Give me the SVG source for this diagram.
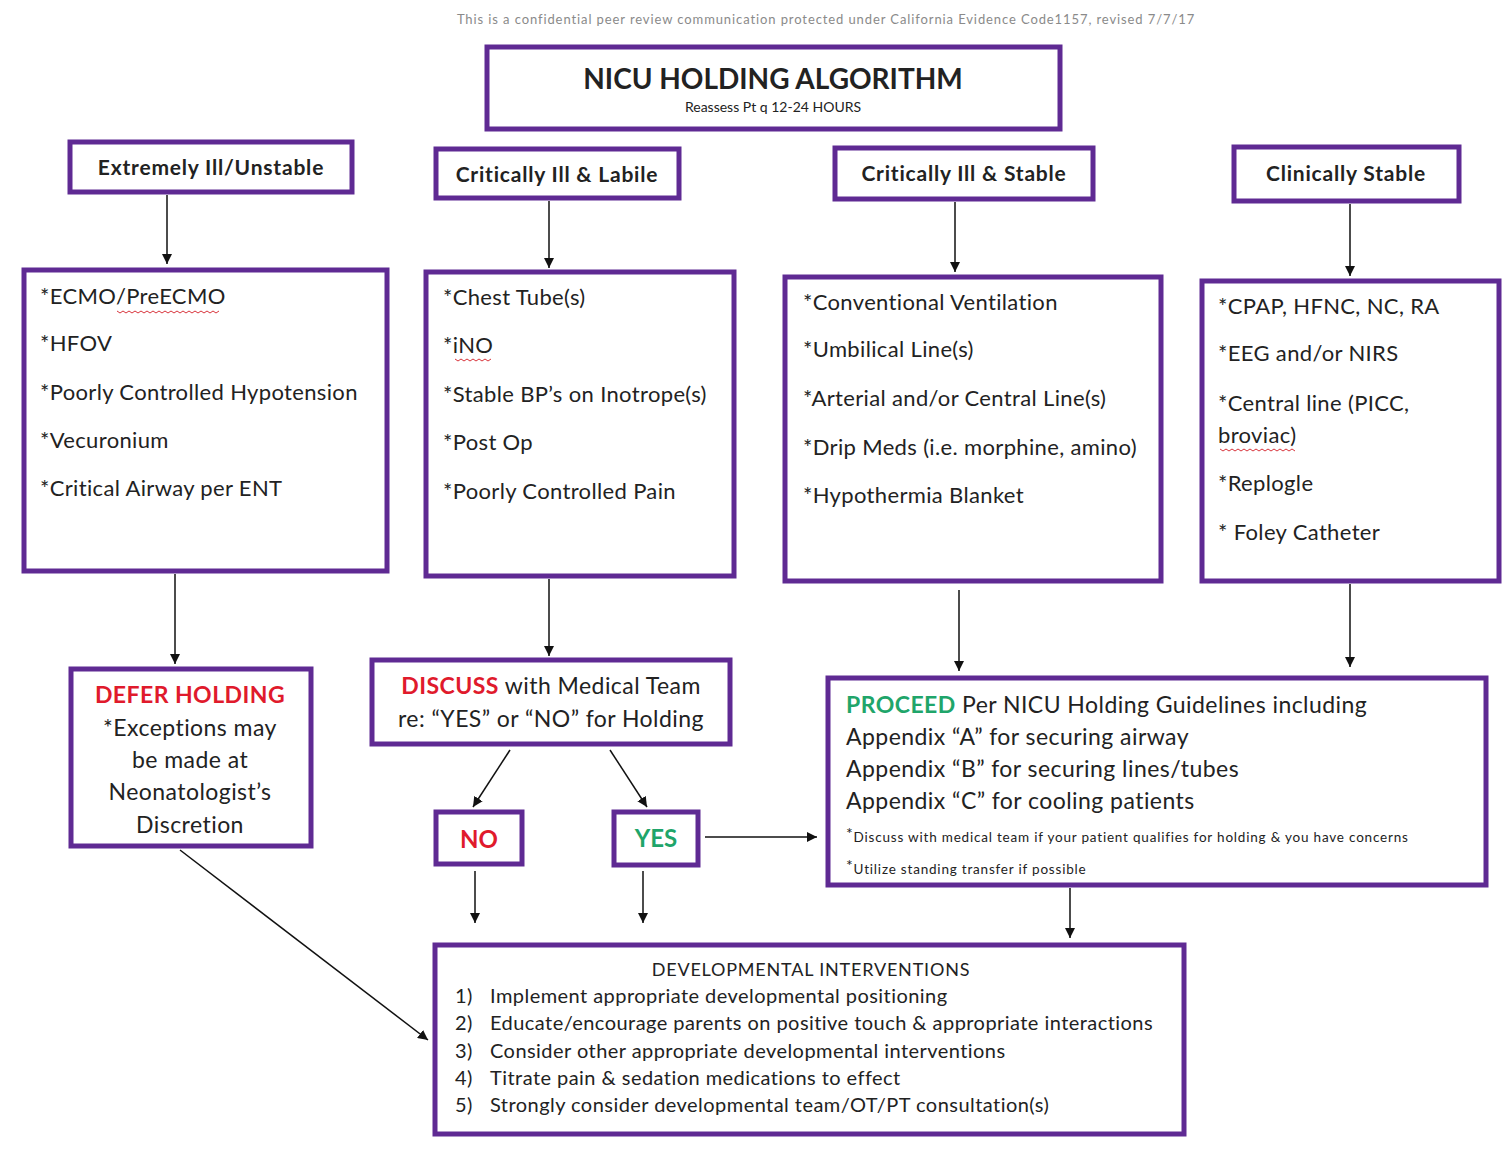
<svg xmlns="http://www.w3.org/2000/svg" width="1511" height="1152" viewBox="0 0 1511 1152">
<style>
.box{fill:#ffffff;stroke:#5f2a93;stroke-width:5}
.t{font-family:Lato,"Open Sans","Liberation Sans",sans-serif;fill:#222}
.cat{font-size:21px;font-weight:bold;text-anchor:middle;letter-spacing:0.8px}
.item{font-size:22px;letter-spacing:0.35px}
.big{font-size:23px;letter-spacing:0.45px}
.red{fill:#e01a2c;font-weight:bold}
.grn{fill:#1fa56a;font-weight:bold}
.note{font-size:13.5px;letter-spacing:0.8px}
.dev{font-size:20px;letter-spacing:0.45px}
.con{stroke:#111;stroke-width:1.5;fill:none}
.sq{stroke:#d8343c;stroke-width:1;fill:none}
</style>
<defs>
<marker id="ah" markerUnits="userSpaceOnUse" markerWidth="10" markerHeight="10" refX="10" refY="5" orient="auto">
<path d="M0,0 L10,5 L0,10 z" fill="#111"/>
</marker>
</defs>
<rect width="1511" height="1152" fill="#ffffff"/>
<text class="t" x="826" y="24" font-size="13" letter-spacing="0.9" style="fill:#8a8a8a" text-anchor="middle">This is a confidential peer review communication protected under California Evidence Code1157, revised 7/7/17</text>

<g id="header">
<rect class="box" x="487" y="47" width="573" height="82"/>
<text class="t" x="773" y="89" font-size="28" font-weight="bold" text-anchor="middle">NICU HOLDING ALGORITHM</text>
<text class="t" x="773" y="112" font-size="14" text-anchor="middle">Reassess Pt q 12-24 HOURS</text>
</g>

<g id="cat1"><rect class="box" x="70" y="142" width="282" height="50"/><text class="t cat" x="211" y="175">Extremely Ill/Unstable</text></g>
<g id="cat2"><rect class="box" x="436" y="149" width="243" height="49"/><text class="t cat" x="557" y="182">Critically Ill &amp; Labile</text></g>
<g id="cat3"><rect class="box" x="835" y="148" width="258" height="51"/><text class="t cat" x="964" y="181">Critically Ill &amp; Stable</text></g>
<g id="cat4"><rect class="box" x="1234" y="147" width="225" height="54"/><text class="t cat" x="1346" y="181">Clinically Stable</text></g>

<g id="list1">
<rect class="box" x="24" y="270" width="363" height="301"/>
<text class="t item" x="40" y="304">*ECMO/PreECMO</text>
<text class="t item" x="40" y="351">*HFOV</text>
<text class="t item" x="40" y="400">*Poorly Controlled Hypotension</text>
<text class="t item" x="40" y="448">*Vecuronium</text>
<text class="t item" x="40" y="496">*Critical Airway per ENT</text>
<path class="sq" d="M117,311 l3,2 l3,-2 l3,2 l3,-2 l3,2 l3,-2 l3,2 l3,-2 l3,2 l3,-2 l3,2 l3,-2 l3,2 l3,-2 l3,2 l3,-2 l3,2 l3,-2 l3,2 l3,-2 l3,2 l3,-2 l3,2 l3,-2 l3,2 l3,-2 l3,2 l3,-2 l3,2 l3,-2 l3,2 l3,-2 l3,2 l3,-2"/>
</g>

<g id="list2">
<rect class="box" x="426" y="272" width="308" height="304"/>
<text class="t item" x="443" y="305">*Chest Tube(s)</text>
<text class="t item" x="443" y="353">*iNO</text>
<text class="t item" x="443" y="402">*Stable BP’s on Inotrope(s)</text>
<text class="t item" x="443" y="450">*Post Op</text>
<text class="t item" x="443" y="499">*Poorly Controlled Pain</text>
<path class="sq" d="M455,359 l3,2 l3,-2 l3,2 l3,-2 l3,2 l3,-2 l3,2 l3,-2 l3,2 l3,-2 l3,2 l3,-2"/>
</g>

<g id="list3">
<rect class="box" x="785" y="277" width="376" height="304"/>
<text class="t item" x="803" y="310">*Conventional Ventilation</text>
<text class="t item" x="803" y="357">*Umbilical Line(s)</text>
<text class="t item" x="803" y="406">*Arterial and/or Central Line(s)</text>
<text class="t item" x="803" y="455">*Drip Meds (i.e. morphine, amino)</text>
<text class="t item" x="803" y="503">*Hypothermia Blanket</text>
</g>

<g id="list4">
<rect class="box" x="1202" y="281" width="297" height="300"/>
<text class="t item" x="1218" y="314">*CPAP, HFNC, NC, RA</text>
<text class="t item" x="1218" y="361">*EEG and/or NIRS</text>
<text class="t item" x="1218" y="411">*Central line (PICC,</text>
<text class="t item" x="1218" y="443">broviac)</text>
<text class="t item" x="1218" y="491">*Replogle</text>
<text class="t item" x="1218" y="540">* Foley Catheter</text>
<path class="sq" d="M1220,449 l3,2 l3,-2 l3,2 l3,-2 l3,2 l3,-2 l3,2 l3,-2 l3,2 l3,-2 l3,2 l3,-2 l3,2 l3,-2 l3,2 l3,-2 l3,2 l3,-2 l3,2 l3,-2 l3,2 l3,-2 l3,2 l3,-2 l3,2"/>
</g>

<g id="defer">
<rect class="box" x="71" y="669" width="240" height="177"/>
<text class="t big" x="190" y="703" text-anchor="middle" letter-spacing="0"><tspan class="red">DEFER HOLDING</tspan></text>
<text class="t big" x="190" y="736" text-anchor="middle">*Exceptions may</text>
<text class="t big" x="190" y="768" text-anchor="middle">be made at</text>
<text class="t big" x="190" y="800" text-anchor="middle">Neonatologist’s</text>
<text class="t big" x="190" y="833" text-anchor="middle">Discretion</text>
</g>

<g id="discuss">
<rect class="box" x="372" y="660" width="358" height="84"/>
<text class="t big" x="551" y="694" text-anchor="middle"><tspan class="red">DISCUSS</tspan> with Medical Team</text>
<text class="t big" x="551" y="727" text-anchor="middle">re: “YES” or “NO” for Holding</text>
</g>

<g id="no">
<rect class="box" x="436" y="812" width="86" height="52"/>
<text class="t" x="479" y="848" font-size="24" text-anchor="middle"><tspan class="red">NO</tspan></text>
</g>

<g id="yes">
<rect class="box" x="614" y="812" width="84" height="53"/>
<text class="t" x="656" y="847" font-size="24" text-anchor="middle"><tspan class="grn">YES</tspan></text>
</g>

<g id="proceed">
<rect class="box" x="828" y="678" width="658" height="207"/>
<text class="t big" x="846" y="713" letter-spacing="0.3"><tspan class="grn">PROCEED</tspan> Per NICU Holding Guidelines including</text>
<text class="t big" x="846" y="745" letter-spacing="0.3">Appendix “A” for securing airway</text>
<text class="t big" x="846" y="777" letter-spacing="0.3">Appendix “B” for securing lines/tubes</text>
<text class="t big" x="846" y="809" letter-spacing="0.3">Appendix “C” for cooling patients</text>
<text class="t note" x="846" y="842"><tspan font-size="16" dy="-3">*</tspan><tspan dy="3">Discuss with medical team if your patient qualifies for holding &amp; you have concerns</tspan></text>
<text class="t note" x="846" y="874"><tspan font-size="16" dy="-3">*</tspan><tspan dy="3">Utilize standing transfer if possible</tspan></text>
</g>

<g id="developmental">
<rect class="box" x="435" y="945" width="749" height="189"/>
<text class="t" x="811" y="976" font-size="18" letter-spacing="0.8" text-anchor="middle">DEVELOPMENTAL INTERVENTIONS</text>
<g class="t dev">
<text x="455" y="1003">1)</text><text x="490" y="1003">Implement appropriate developmental positioning</text>
<text x="455" y="1030">2)</text><text x="490" y="1030">Educate/encourage parents on positive touch &amp; appropriate interactions</text>
<text x="455" y="1058">3)</text><text x="490" y="1058">Consider other appropriate developmental interventions</text>
<text x="455" y="1085">4)</text><text x="490" y="1085">Titrate pain &amp; sedation medications to effect</text>
<text x="455" y="1112">5)</text><text x="490" y="1112">Strongly consider developmental team/OT/PT consultation(s)</text>
</g>
</g>

<g id="connectors">
<line class="con" x1="167" y1="195" x2="167" y2="264" marker-end="url(#ah)"/>
<line class="con" x1="549" y1="201" x2="549" y2="268" marker-end="url(#ah)"/>
<line class="con" x1="955" y1="202" x2="955" y2="272" marker-end="url(#ah)"/>
<line class="con" x1="1350" y1="204" x2="1350" y2="276" marker-end="url(#ah)"/>
<line class="con" x1="175" y1="574" x2="175" y2="664" marker-end="url(#ah)"/>
<line class="con" x1="549" y1="579" x2="549" y2="656" marker-end="url(#ah)"/>
<line class="con" x1="959" y1="590" x2="959" y2="671" marker-end="url(#ah)"/>
<line class="con" x1="1350" y1="584" x2="1350" y2="667" marker-end="url(#ah)"/>
<line class="con" x1="510" y1="750" x2="473" y2="807" marker-end="url(#ah)"/>
<line class="con" x1="610" y1="750" x2="647" y2="807" marker-end="url(#ah)"/>
<line class="con" x1="705" y1="837" x2="817" y2="837" marker-end="url(#ah)"/>
<line class="con" x1="475" y1="871" x2="475" y2="923" marker-end="url(#ah)"/>
<line class="con" x1="643" y1="871" x2="643" y2="923" marker-end="url(#ah)"/>
<line class="con" x1="1070" y1="888" x2="1070" y2="938" marker-end="url(#ah)"/>
<line class="con" x1="180" y1="850" x2="428" y2="1040" marker-end="url(#ah)"/>
</g>
</svg>
